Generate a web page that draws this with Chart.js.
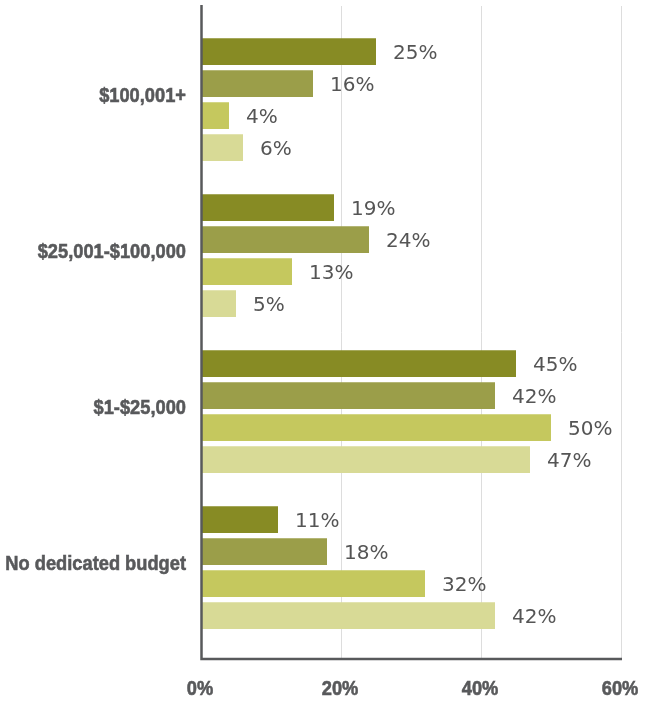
<!DOCTYPE html>
<html>
<head>
<meta charset="utf-8">
<title>Budget</title>
<script src="https://cdn.jsdelivr.net/npm/chart.js@4.4.1/dist/chart.umd.min.js"></script>
<style>
    html, body { margin: 0; padding: 0; background: #fff; }
    #chart { display: block; }
</style>
</head>
<body>
<canvas id="chart" width="655" height="703"></canvas>
<script>
// budget bands, one group of four bars each
const categories = ['$100,001+', '$25,001-$100,000', '$1-$25,000', 'No dedicated budget'];
const seriesA = [25, 19, 45, 11];
const seriesB = [16, 24, 42, 18];
const seriesC = [4, 13, 50, 32];
const seriesD = [6, 5, 47, 42];
const xTicks = [0, 20, 40, 60];

const colors = ['#878b24', '#9b9e49', '#c5c85e', '#d8da96'];
const AXIS_COLOR = '#58595b';
const GRID_COLOR = '#dddddd';
// no narrow face installed, so squeeze the bold sans horizontally
const TICK_FONT = 'bold 21px "Liberation Sans", Arial, sans-serif';
const TICK_SQUEEZE = 0.87;

// grid and axis lines run a little past the plot area, so draw them by hand
const frameLines = {
    id: 'frameLines',
    beforeDatasetsDraw(chart) {
        const { ctx } = chart;
        const x = chart.scales.x;
        const top = 6, bottom = 659;
        ctx.save();
        ctx.strokeStyle = GRID_COLOR;
        ctx.lineWidth = 1;
        xTicks.slice(1).forEach(v => {
            const px = Math.round(x.getPixelForValue(v)) + 0.5;
            ctx.beginPath();
            ctx.moveTo(px, top);
            ctx.lineTo(px, bottom);
            ctx.stroke();
        });
        ctx.restore();
    },
    afterDatasetsDraw(chart) {
        const { ctx } = chart;
        const x = chart.scales.x;
        const left = x.getPixelForValue(0);
        const right = x.getPixelForValue(60);
        ctx.save();
        ctx.strokeStyle = AXIS_COLOR;
        ctx.lineWidth = 2.5;
        ctx.beginPath();
        ctx.moveTo(left + 0.5, 5);
        ctx.lineTo(left + 0.5, 659);
        ctx.lineTo(right + 1, 659);
        ctx.stroke();
        ctx.restore();
    }
};

// condensed heavy tick labels for both axes
const tickLabels = {
    id: 'tickLabels',
    afterDraw(chart) {
        const { ctx } = chart;
        const xs = chart.scales.x;
        const ys = chart.scales.y;
        const squeezed = (text, px, py, align) => {
            ctx.save();
            ctx.translate(px, py);
            ctx.scale(TICK_SQUEEZE, 1);
            ctx.textAlign = align;
            ctx.fillText(text, 0, 0);
            ctx.strokeText(text, 0, 0);
            ctx.restore();
        };
        ctx.save();
        ctx.font = TICK_FONT;
        ctx.fillStyle = AXIS_COLOR;
        ctx.strokeStyle = AXIS_COLOR;
        ctx.lineWidth = 0.6;
        ctx.textBaseline = 'alphabetic';
        ys.ticks.forEach((t, i) => {
            squeezed(ys.getLabelForValue(t.value), ys.right - 15, ys.getPixelForTick(i) + 2.5, 'right');
        });
        xs.ticks.forEach(t => {
            squeezed(t.value + '%', xs.getPixelForValue(t.value) - 1, 695, 'center');
        });
        ctx.restore();
    }
};

// percentage next to each bar
const barValues = {
    id: 'barValues',
    afterDatasetsDraw(chart) {
        const { ctx } = chart;
        ctx.save();
        ctx.font = '20px "DejaVu Sans", sans-serif';
        ctx.fillStyle = '#555555';
        ctx.textAlign = 'left';
        ctx.textBaseline = 'alphabetic';
        chart.data.datasets.forEach((ds, i) => {
            chart.getDatasetMeta(i).data.forEach((bar, j) => {
                ctx.fillText(ds.data[j] + '%', bar.x + 17, bar.y + 7.5);
            });
        });
        ctx.restore();
    }
};

function noPadding(scale) {
    scale.paddingTop = 0;
    scale.paddingBottom = 0;
    scale.paddingLeft = 0;
    scale.paddingRight = 0;
}

new Chart(document.getElementById('chart'), {
    type: 'bar',
    data: {
        labels: categories,
        datasets: [seriesA, seriesB, seriesC, seriesD].map((d, i) => ({
            data: d,
            backgroundColor: colors[i],
            borderWidth: 0,
            categoryPercentage: 0.8205,
            barPercentage: 0.834
        }))
    },
    options: {
        indexAxis: 'y',
        responsive: false,
        animation: false,
        layout: { padding: { top: 21.65, right: 34, left: 0, bottom: 0 } },
        plugins: {
            legend: { display: false },
            tooltip: { enabled: false }
        },
        scales: {
            x: {
                min: 0,
                max: 60,
                afterFit(scale) {
                    scale.height = 703 - 645.65;
                    noPadding(scale);
                },
                afterBuildTicks(scale) { scale.ticks = xTicks.map(v => ({ value: v })); },
                grid: { display: false, drawTicks: false },
                border: { display: false },
                ticks: { display: false }
            },
            y: {
                afterFit(scale) {
                    scale.width = 201;
                    noPadding(scale);
                },
                grid: { display: false, drawTicks: false },
                border: { display: false },
                ticks: { display: false }
            }
        }
    },
    plugins: [frameLines, barValues, tickLabels]
});
</script>
</body>
</html>
